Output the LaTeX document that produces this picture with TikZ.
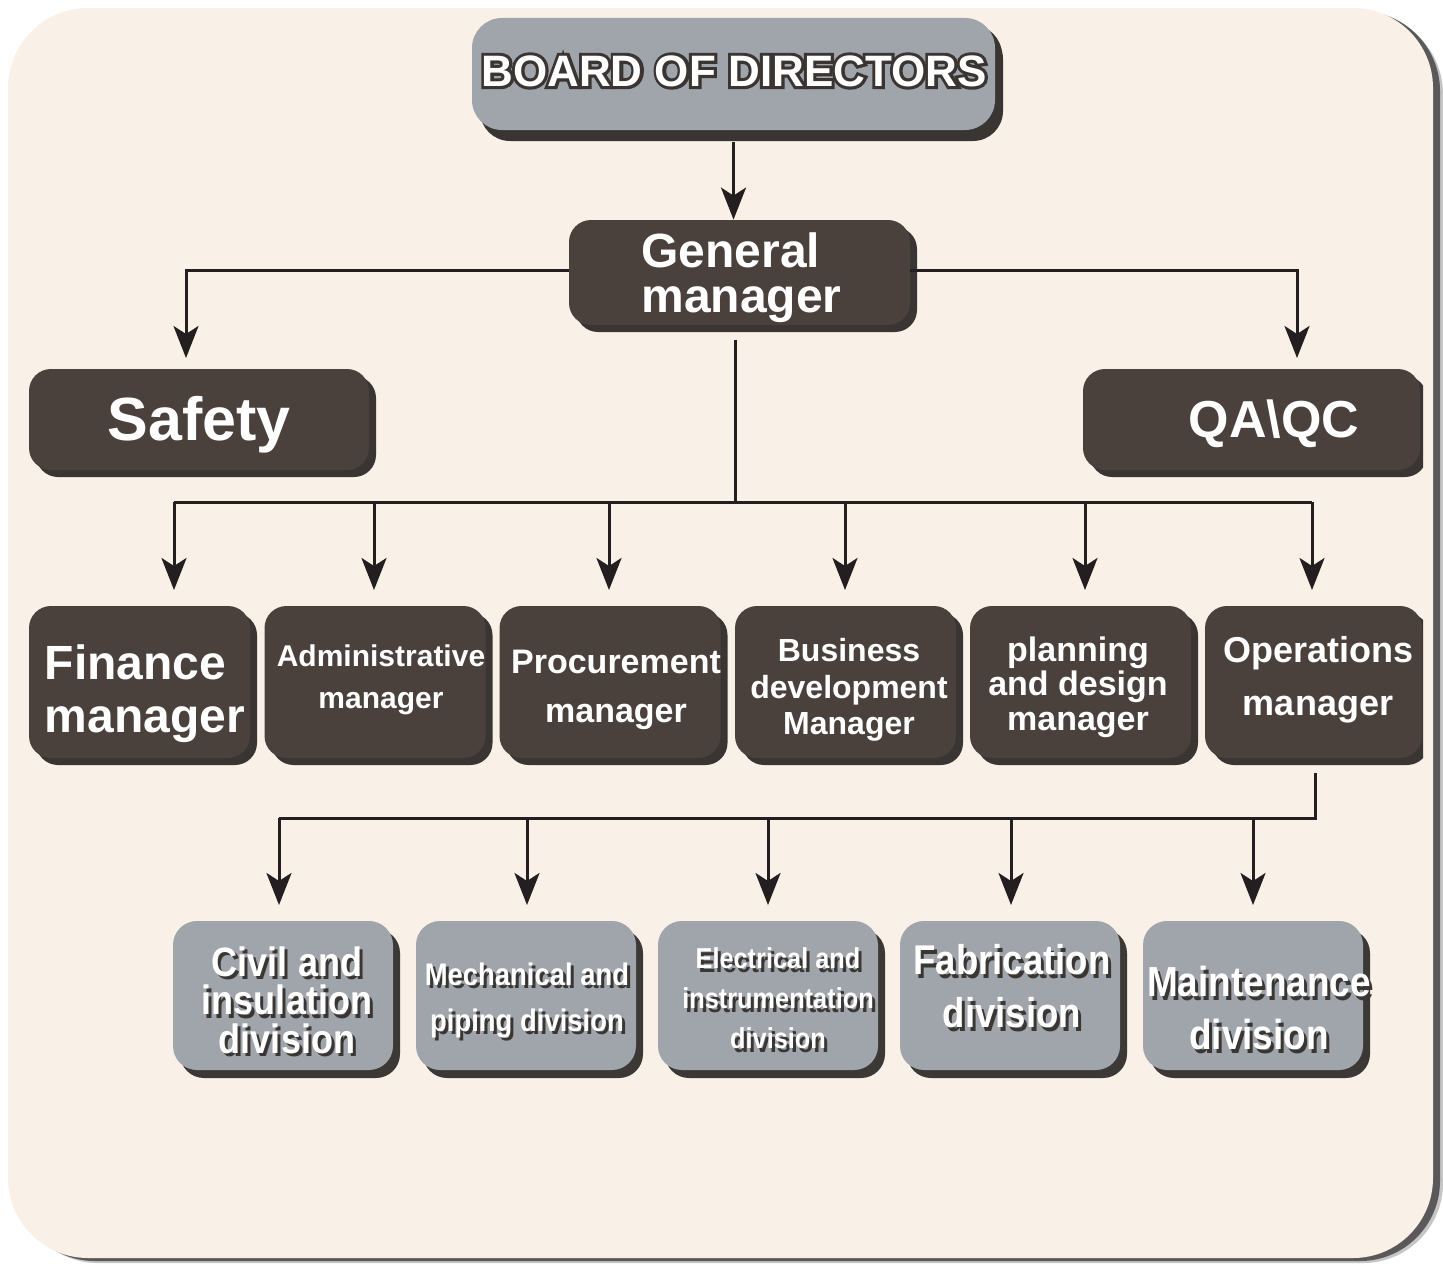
\documentclass[tikz,border=0pt]{standalone}
\usepackage{fontspec}
\setmainfont{Liberation Sans}
\newfontfamily\condfont[FakeStretch=0.88]{Liberation Sans}
\newfontface\outfont[FakeBold=14]{Liberation Sans Bold}
\usetikzlibrary{shadows,arrows.meta}
\definecolor{panel}{HTML}{F9F0E7}
\definecolor{pshd}{HTML}{5A5858}
\definecolor{dbox}{HTML}{4A413D}
\definecolor{dshd}{HTML}{393533}
\definecolor{gbox}{HTML}{A0A4AB}
\definecolor{gshd}{HTML}{3B3836}
\definecolor{ln}{HTML}{231F20}
\definecolor{outl}{HTML}{3A3432}
\definecolor{txshd}{HTML}{3A3634}
\newcommand{\shd}[1]{\makebox[0pt][l]{\kern1.5pt\raisebox{-1.7pt}{\textcolor{txshd}{#1}}}#1}
\newcommand{\outl}[1]{\makebox[0pt][l]{\textcolor{outl}{\outfont #1}}#1}
\tikzset{
  darkbox/.style={rounded corners=11pt, fill=dbox, inner sep=0pt,
    drop shadow={shadow xshift=3.5pt, shadow yshift=-3.5pt, fill=dshd, opacity=1}},
  graybox/.style={rounded corners=12pt, fill=gbox, inner sep=0pt,
    drop shadow={shadow xshift=3.5pt, shadow yshift=-4pt, fill=gshd, opacity=1}},
  lbl/.style={text=white, align=center, inner sep=0pt},
  conline/.style={draw=ln, line width=1.5pt},
  arr/.style={conline, -{Stealth[length=16pt,width=12.5pt,inset=4pt]}},
  mgr/.style={darkbox, minimum width=110.5pt, minimum height=76pt},
  divbox/.style={graybox, minimum width=110pt, minimum height=74.5pt},
}
\begin{document}
\begin{tikzpicture}[x=0.5pt,y=-0.5pt]
\useasboundingbox (0,0) rectangle (1443,1263);
% panel and its shadow
\fill[pshd, opacity=0.35, rounded corners=40pt] (18,14) rectangle (1443,1263);
\fill[pshd, rounded corners=40pt] (15,11) rectangle (1440,1261);
\fill[panel, rounded corners=40pt] (8,8) rectangle (1433,1258);

% boxes
\node[darkbox, rounded corners=15pt, fill=gbox,
  drop shadow={shadow xshift=4pt, shadow yshift=-5.5pt, fill=dshd, opacity=1},
  minimum width=261.5pt, minimum height=56pt] (board) at (733.5,74) {};
\node[darkbox, minimum width=170.5pt, minimum height=52.5pt] (gm) at (739.5,272.5) {};
\node[darkbox, minimum width=170pt, minimum height=50.5pt] (safety) at (199,419.5) {};

\node[mgr] (fin) at (139.5,682) {};
\node[mgr] (adm) at (375,682) {};
\node[mgr] (proc) at (610,682) {};
\node[mgr] (bus) at (845.5,682) {};
\node[mgr] (plan) at (1080.5,682) {};
\begin{scope}
\clip (0,0) rectangle (1423,1263);
\node[darkbox, minimum width=168.5pt, minimum height=50.5pt] (qaqc) at (1251.5,419.5) {};
\node[mgr, minimum width=108.5pt] (ops) at (1313.5,682) {};
\end{scope}

\node[divbox] (civ) at (283,995.5) {};
\node[divbox] (mech) at (526,995.5) {};
\node[divbox] (elec) at (768,995.5) {};
\node[divbox] (fab) at (1010,995.5) {};
\node[divbox] (maint) at (1253,995.5) {};

% connector coordinates
\coordinate (tS) at (186,358);
\coordinate (tQ) at (1297,358);
\coordinate (busA) at (735,502);
\coordinate (t1) at (174,590);
\coordinate (t2) at (374,590);
\coordinate (t3) at (609,590);
\coordinate (t4) at (845,590);
\coordinate (t5) at (1085,590);
\coordinate (t6) at (1312,590);
\coordinate (busB) at (1315,818);
\coordinate (d1) at (279,905);
\coordinate (d2) at (527,905);
\coordinate (d3) at (768,905);
\coordinate (d4) at (1011,905);
\coordinate (d5) at (1253,905);

% connectors
\draw[arr] ([yshift=-6pt]board.south) -- (board.south |- gm.north);
\draw[arr] ([yshift=1.25pt]gm.west) -| (tS);
\draw[arr] ([yshift=1.25pt]gm.east) -| (tQ);
\draw[conline] ([xshift=-2.25pt,yshift=-7.5pt]gm.south) -- (busA);
\draw[conline] (t1 |- busA) -- (t6 |- busA);
\foreach \t in {t1,t2,t3,t4,t5,t6} \draw[arr] (\t |- busA) -- (\t);
\draw[conline] ([yshift=-7.5pt]ops.south -| busB) -- (busB) -- (d1 |- busB);
\foreach \t in {d1,d2,d3,d4,d5} \draw[arr] (\t |- busB) -- (\t);

% labels
\node[lbl, font=\fontsize{22pt}{24pt}\selectfont\bfseries] (lboard) at (734,71) {\outl{BOARD OF DIRECTORS}};
\node[lbl, align=left, font=\fontsize{24pt}{22.5pt}\selectfont\bfseries] (lgm) at (741.5,278) {General\\manager};
\node[lbl, font=\fontsize{30.5pt}{32pt}\selectfont\bfseries] (lsafety) at (199,425) {Safety};
\node[lbl, font=\fontsize{26pt}{28pt}\selectfont\bfseries] (lqaqc) at (1274,424) {QA\textbackslash QC};

\node[lbl, align=left, font=\fontsize{24pt}{26.5pt}\selectfont\bfseries] (lfin) at (145,694) {Finance\\manager};
\node[lbl, font=\fontsize{15pt}{21pt}\selectfont\bfseries] (ladm) at (381,680) {Administrative\\manager};
\node[lbl, font=\fontsize{17pt}{24.5pt}\selectfont\bfseries] (lproc) at (616,690) {Procurement\\manager};
\node[lbl, font=\fontsize{16pt}{18.3pt}\selectfont\bfseries] (lbus) at (849,690) {Business\\development\\Manager};
\node[lbl, font=\fontsize{17pt}{17.3pt}\selectfont\bfseries] (lplan) at (1078,687) {planning\\and design\\manager};
\node[lbl, font=\fontsize{18pt}{26.5pt}\selectfont\bfseries] (lops) at (1318,680) {Operations\\manager};

\node[lbl, font=\condfont\fontsize{20.5pt}{19.3pt}\selectfont\bfseries] (lciv) at (287,1002) {\shd{Civil and}\\\shd{insulation}\\\shd{division}};
\node[lbl, font=\condfont\fontsize{15.6pt}{23pt}\selectfont\bfseries] (lmech) at (527,1002) {\shd{Mechanical and}\\\shd{piping division}};
\node[lbl, font=\condfont\fontsize{14.4pt}{20pt}\selectfont\bfseries] (lelec) at (778,1000) {\shd{Electrical and}\\\shd{instrumentation}\\\shd{division}};
\node[lbl, font=\condfont\fontsize{20.8pt}{26.5pt}\selectfont\bfseries] (lfab) at (1012,988) {\shd{Fabrication}\\\shd{division}};
\node[lbl, font=\condfont\fontsize{21pt}{26.5pt}\selectfont\bfseries] (lmaint) at (1259,1010) {\shd{Maintenance}\\\shd{division}};
\end{tikzpicture}
\end{document}
